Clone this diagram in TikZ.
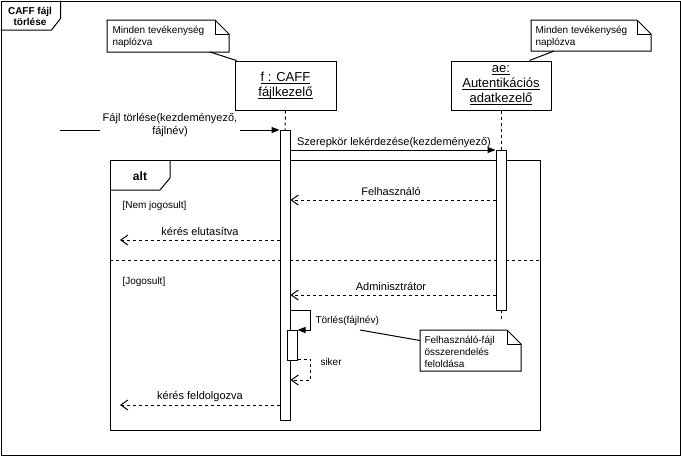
\documentclass[tikz,border=0pt]{standalone}
\usepackage{fontspec}
\setmainfont{Liberation Sans}
\usetikzlibrary{arrows.meta,calc}

% underlined lifeline name, rule at a fixed distance under the baseline
\newcommand{\ulname}[1]{\leavevmode\setbox0\hbox{#1}\dp0=0pt\vtop{\copy0\kern1.3pt\hrule height 0.9pt}}

% folded-corner outline around an (empty) note node
\newcommand{\notefold}[1]{%
  \draw[fill=white] (#1.north west) -- ($(#1.north east)+(-14,0)$) -- ($(#1.north east)+(0,14)$)
    -- (#1.south east) -- (#1.south west) -- cycle;
  \draw ($(#1.north east)+(-14,0)$) -- ++(0,14) -- ++(14,0);
}

\begin{document}
\begin{tikzpicture}[x=1pt,y=-1pt,line width=1pt,
  msgfont/.style={font=\fontsize{11}{13}\selectfont},
  smalltext/.style={font=\fontsize{10}{12}\selectfont, inner sep=0pt, align=left},
  lifebox/.style={draw, fill=white, minimum width=101pt, minimum height=49pt, inner sep=0pt,
    align=center, font=\fontsize{13}{15}\selectfont},
  actbar/.style={draw, fill=white, minimum width=10pt, inner sep=0pt, anchor=north},
  notearea/.style={inner sep=0pt, anchor=north west},
  lifeline/.style={dash pattern=on 3pt off 3pt},
  sync/.style={-{Triangle[length=8pt,width=6pt]}},
  reply/.style={dash pattern=on 3pt off 3pt, -{Straight Barb[length=7pt,width=10pt]}},
  msglabel/.style={msgfont, inner sep=0pt, anchor=base},
]
\useasboundingbox (0,0) rectangle (681,456);

% outer diagram frame with its title tab
\node[draw, minimum width=679pt, minimum height=454pt, inner sep=0pt, anchor=north west] (frame) at (0.5,0.5) {};
\draw ($(frame.north west)+(0,29.5)$) -- ++(51,0) -- ++(9,-11.5) -- ++(0,-18);
\node[font=\bfseries\fontsize{10}{10.5}\selectfont, align=center, inner sep=0pt] (title) at (30,16.5) {CAFF fájl\\törlése};

% combined fragment "alt"
\node[draw, minimum width=430pt, minimum height=270pt, inner sep=0pt, anchor=north west] (altf) at (110,160) {};
\draw ($(altf.north west)+(0,30)$) -- ++(50,0) -- ++(10,-12) -- ++(0,-18);
\node[font=\bfseries\fontsize{12}{14}\selectfont, inner sep=0pt, anchor=base] (altl) at (140,180) {alt};
\draw[dash pattern=on 3pt off 3pt] ($(altf.north west)+(0,100)$) -- ($(altf.north east)+(0,100)$);
\node[smalltext, anchor=base west] (g1) at (122,208) {[Nem jogosult]};
\node[smalltext, anchor=base west] (g2) at (122,284) {[Jogosult]};

% lifeline heads
\node[lifebox] (f) at (285.5,85.5) {\ulname{f : CAFF}\\\ulname{fájlkezelő}};
\node[lifebox, minimum width=100pt] (ae) at (501,85.5) {\ulname{ae:}\\\ulname{Autentikációs}\\\ulname{adatkezelő}};

% lifelines
\coordinate (aeend) at (501,320);
\draw[lifeline] (f.south) -- (285,130);
\draw[lifeline] (ae.south) -- (501,150);
\draw[lifeline] (501,310) -- (aeend);

% activation bars
\node[actbar, minimum height=290pt] (af) at (285,130) {};
\node[actbar, minimum height=160pt] (aa) at (501,150) {};
\node[actbar, minimum height=30pt] (af2) at (292,330) {};

% notes (text anchored at the baseline of its last line)
\node[notearea, minimum width=121pt, minimum height=31pt] (n1) at (107,20) {};
\notefold{n1}
\node[smalltext, anchor=base west] (n1t) at (112,45) {Minden tevékenység\\naplózva};
\draw ($(n1.south west)+(103,0)$) -- ($(f.north west)+(2,0)$);

\node[notearea, minimum width=119pt, minimum height=30pt] (n2) at (531,20) {};
\notefold{n2}
\node[smalltext, anchor=base west] (n2t) at (535,45) {Minden tevékenység\\naplózva};
\draw ($(n2.south west)+(23,0)$) -- ($(ae.north west)+(79,0)$);

\node[notearea, minimum width=100pt, minimum height=40pt] (n3) at (420,330) {};
\notefold{n3}
\node[smalltext, anchor=base west] (n3t) at (424,367) {Felhasználó-fájl\\összerendelés\\feloldása};
\coordinate (tn) at (360,330);
\draw (tn) -- ($(n3.west)+(0,-10)$);

% messages
\coordinate (src) at (60,130);
\coordinate (rej) at (120,240);
\coordinate (done) at (120,405);

\draw[sync] (src) -- (af.north west);
\node[fill=white, align=center, inner xsep=3pt, inner ysep=1pt, font=\fontsize{11}{12.5}\selectfont] (m1) at (170,125) {Fájl törlése(kezdeményező,\\fájlnév)};

\draw[sync] ($(af.north east)+(0,20)$) -- (aa.north west);
\node[msglabel] (m2) at (394,145) {Szerepkör lekérdezése(kezdeményező)};

\draw[reply] ($(aa.north west)+(0,50)$) -- ($(af.north east)+(0,70)$);
\node[msglabel] (m3) at (391,195) {Felhasználó};

\draw[reply] ($(af.north west)+(0,110)$) -- (rej);
\node[msglabel] (m4) at (200,235) {kérés elutasítva};

\draw[reply] ($(aa.north west)+(0,145)$) -- ($(af.north east)+(0,165)$);
\node[msglabel] (m5) at (391,290) {Adminisztrátor};

\draw[sync] ($(af.north east)+(0,180)$) -- ++(20,0) |- (af2.north east);
\node[smalltext, anchor=base west] (m6) at (315,323) {Törlés(fájlnév)};

\draw[reply] ($(af2.south east)+(0,-2)$) -- ++(13,0) |- ($(af.north east)+(0,250)$);
\node[smalltext, anchor=base west] (m7) at (320,365) {siker};

\draw[reply] ($(af.north west)+(0,275)$) -- (done);
\node[msglabel] (m8) at (200,399) {kérés feldolgozva};
\end{tikzpicture}
\end{document}
